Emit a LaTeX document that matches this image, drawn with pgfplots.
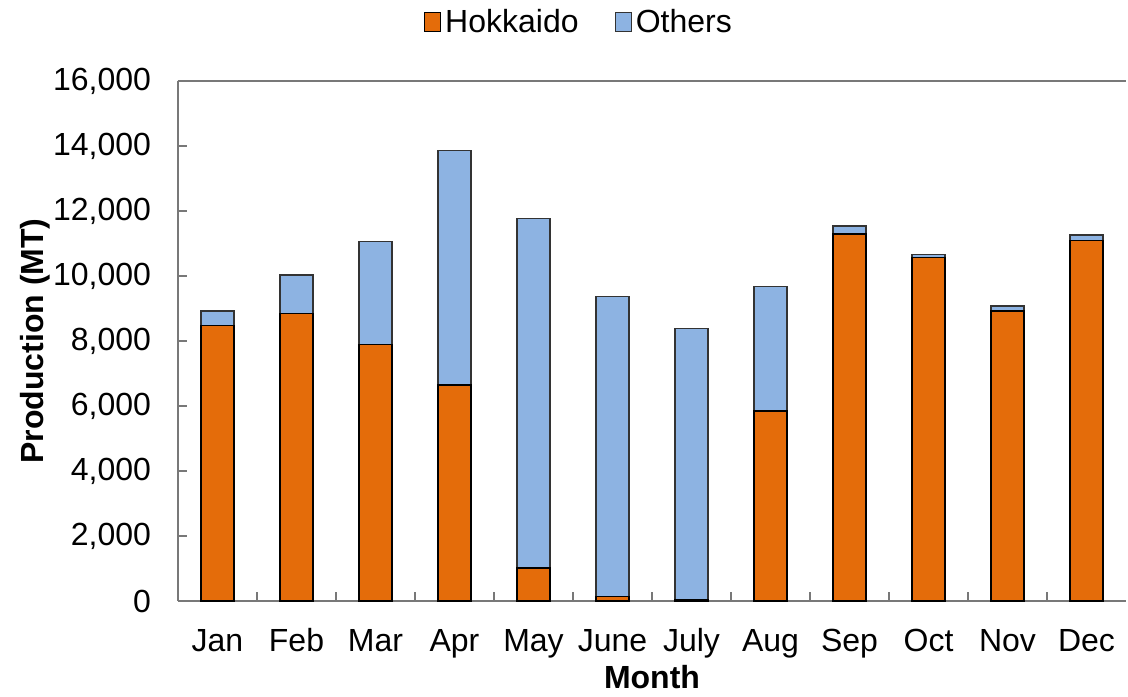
\documentclass[border=0pt]{standalone}
\usepackage{fontspec}
\setmainfont{Liberation Sans}
\usepackage{pgfplots}
\pgfplotsset{compat=1.18}
\usetikzlibrary{calc}
\definecolor{hok}{RGB}{228,108,10}
\definecolor{oth}{RGB}{141,179,226}
\definecolor{axgray}{RGB}{120,120,120}
\begin{document}
\begin{tikzpicture}[font=\fontsize{16}{19.2}\selectfont]
\begin{axis}[
  scale only axis, width=474pt, height=260pt,
  ybar stacked, bar width=16.5pt,
  xmin=-0.5, xmax=11.5, ymin=0, ymax=16000,
  xtick={0,...,11},
  xticklabels={Jan,Feb,Mar,Apr,May,June,July,Aug,Sep,Oct,Nov,Dec},
  major x tick style={draw=none},
  minor xtick={0.5,1.5,...,10.5},
  ytick={0,2000,...,16000},
  tick align=inside,
  major tick length=4.5pt, minor tick length=4.5pt,
  tick style={axgray, line width=0.8pt},
  axis x line*=bottom, axis y line*=left,
  axis line style={-, axgray, line width=0.9pt},
  extra y ticks={16000}, extra y tick labels={},
  extra y tick style={grid=major, major grid style={axgray, line width=0.9pt}},
  /pgf/number format/assume math mode=true,
  /pgf/number format/.cd, 1000 sep={,}, /pgfplots/.cd,
  scaled y ticks=false,
  yticklabel style={xshift=-10pt},
  xticklabel style={yshift=-14.5pt, text height=0.72em, text depth=0.21em},
  every axis x label/.style={at={(axis description cs:0.5,0)}, anchor=center, yshift=-38pt},
  every axis y label/.style={at={(axis description cs:-0.1508,0.5)}, anchor=center, rotate=90},
  xlabel={\textbf{Month}},
  ylabel={\textbf{Production (MT)}},
  legend columns=2,
  legend style={draw=none, at={(axis description cs:0.424,1.1135)}, anchor=center,
    /tikz/every even column/.append style={column sep=16pt},
    nodes={inner xsep=2pt}},
  legend image code/.code={\draw[#1, line width=0.6pt] (0pt,-4.75pt) rectangle (8pt,4.75pt);},
]
\addplot[fill=hok, draw=black, line width=0.7pt] coordinates {
(0,8470) (1,8850) (2,7900) (3,6650) (4,1020) (5,130) (6,30) (7,5850) (8,11290) (9,10570) (10,8920) (11,11085)};
\addplot[fill=oth, draw=black!80, line width=0.7pt] coordinates {
(0,450) (1,1180) (2,3155) (3,7205) (4,10745) (5,9235) (6,8350) (7,3820) (8,250) (9,95) (10,160) (11,175)};
\legend{Hokkaido, Others}
\coordinate (bl) at (rel axis cs:0,0);
\coordinate (tr) at (rel axis cs:1,1);
\end{axis}
\pgfresetboundingbox
\path[use as bounding box] ($(bl)+(-89pt,-47.5pt)$) rectangle ($(tr)+(1pt,40.5pt)$);
\end{tikzpicture}
\end{document}
